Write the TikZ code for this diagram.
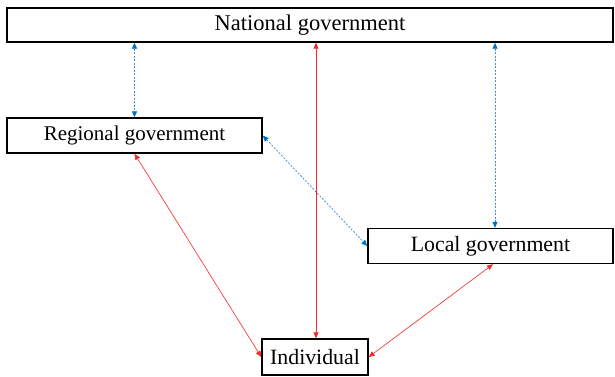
\documentclass[tikz,border=0pt]{standalone}
\usepackage{fontspec}
\setmainfont{Liberation Serif}
\usetikzlibrary{arrows.meta}
\definecolor{linkblue}{RGB}{0,112,192}
\definecolor{lightlinkblue}{RGB}{60,140,210}
\definecolor{linkred}{RGB}{240,40,40}
\begin{document}
\begin{tikzpicture}[x=1pt,y=1pt,
  box/.style={draw=black,line width=1.4pt,inner sep=0pt,font=\fontsize{21.8}{24}\selectfont},
  bluelink/.style={draw=lightlinkblue,line width=0.7pt,dash pattern=on 2pt off 1.5pt,{Triangle[length=6pt,width=5pt,color=linkblue]}-{Triangle[length=6pt,width=5pt,color=linkblue]}},
  redlink/.style={draw=linkred,line width=0.6pt,{Triangle[length=6pt,width=5pt]}-{Triangle[length=6pt,width=5pt]}}]
\useasboundingbox (0,0) rectangle (615,376);
\node[box,minimum width=606pt,minimum height=34pt,font=\fontsize{22.5}{25}\selectfont] (nat) at (310,351) {National government};
\node[box,minimum width=255pt,minimum height=35pt,font=\fontsize{21}{24}\selectfont] (reg) at (134.5,240.5) {Regional government};
\node[box,minimum width=245pt,minimum height=35pt] (loc) at (490.5,130) {Local government};
\node[box,minimum width=106pt,minimum height=36pt] (ind) at (315,19) {Individual};
\coordinate (natA) at (nat.south -| reg.north);
\coordinate (natB) at ([xshift=1pt]nat.south -| ind.north);
\coordinate (natC) at ([xshift=4.5pt]nat.south -| loc.north);
\coordinate (locT) at ([xshift=4.5pt]loc.north);
\draw[bluelink] (natA) -- (reg.north);
\draw[redlink] (natB) -- ([xshift=1pt]ind.north);
\draw[bluelink] (natC) -- (locT);
\draw[bluelink] (reg.east) -- (loc.west);
\draw[redlink] (reg.south) -- (ind.west);
\draw[redlink] ([xshift=2.5pt]loc.south) -- (ind.east);
\end{tikzpicture}
\end{document}
